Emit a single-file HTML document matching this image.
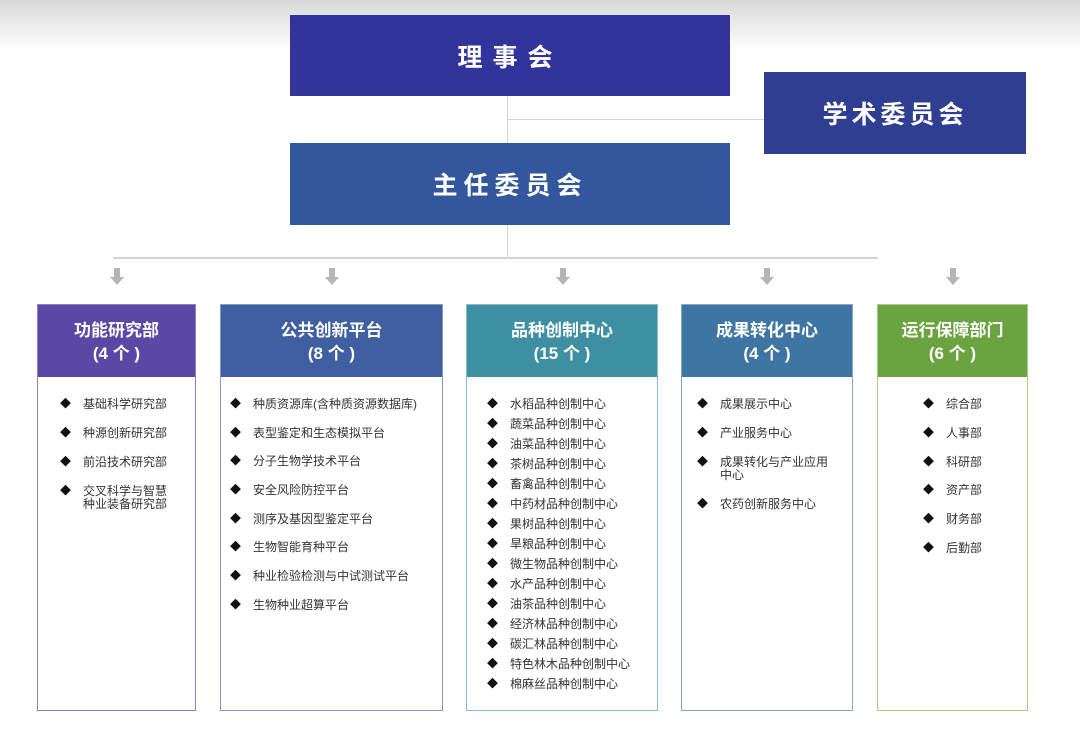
<!DOCTYPE html>
<html><head><meta charset="utf-8"><style>
*{margin:0;padding:0;box-sizing:border-box}
body{width:1080px;height:730px;background:#fff;position:relative;overflow:hidden;font-family:"Liberation Sans","Noto Sans CJK SC",sans-serif}
.fade{position:absolute;left:0;top:0;width:1080px;height:50px;background:linear-gradient(#d8d8d8,#fff)}
.b{position:absolute;color:#fff;font-weight:bold;display:flex;align-items:center;justify-content:center}
.l{position:absolute;background:#d4d4d4}
.col{position:absolute;top:304px;height:407px;border:1.5px solid}
.hd{height:72px;color:#fff;font-weight:bold;font-size:17px;text-align:center;line-height:23px;padding-top:14px}
.it{position:absolute;font-size:12px;color:#333;line-height:13px;white-space:nowrap}
.it:before{content:"◆";position:absolute;left:-23px;top:0;font-size:11px;color:#111}
</style></head><body>
<div class="fade"></div>
<div class="l" style="left:507px;top:96px;width:1px;height:161px"></div>
<div class="l" style="left:507px;top:119px;width:257px;height:1px"></div>
<div class="l" style="left:113px;top:257px;width:765px;height:2px"></div>
<div class="b" style="left:290px;top:15px;width:440px;height:81px;background:#31349a;font-size:25px;letter-spacing:10px">理事会</div>
<div class="b" style="left:764px;top:72px;width:262px;height:82px;background:#2f3e91;font-size:25px;letter-spacing:4px">学术委员会</div>
<div class="b" style="left:290px;top:143px;width:440px;height:82px;background:#33579c;font-size:25px;letter-spacing:6px">主任委员会</div>
<svg width="1080" height="300" style="position:absolute;left:0;top:260px" fill="#b5b5b5">
<g id="a"><rect x="114" y="8" width="6" height="10"/><path d="M110 17h14l-7 8z"/></g>
<use href="#a" x="215"/><use href="#a" x="446"/><use href="#a" x="650"/><use href="#a" x="836"/>
</svg>
<div class="col" style="left:37px;width:159px;border-color:#8c80c4"><div class="hd" style="background:#5a48a4">功能研究部<br>(4 个 )</div></div>
<div class="col" style="left:220px;width:223px;border-color:#8598c4"><div class="hd" style="background:#405fa0">公共创新平台<br>(8 个 )</div></div>
<div class="col" style="left:466px;width:192px;border-color:#86bccb"><div class="hd" style="background:#3f8fa2">品种创制中心<br>(15 个 )</div></div>
<div class="col" style="left:681px;width:172px;border-color:#87a7c6"><div class="hd" style="background:#3f75a3">成果转化中心<br>(4 个 )</div></div>
<div class="col" style="left:877px;width:151px;border-color:#a6cc88"><div class="hd" style="background:#6aa33f">运行保障部门<br>(6 个 )</div></div>

<div class="it" style="left:83px;top:398px">基础科学研究部</div>
<div class="it" style="left:83px;top:427px">种源创新研究部</div>
<div class="it" style="left:83px;top:456px">前沿技术研究部</div>
<div class="it" style="left:83px;top:485px">交叉科学与智慧<br>种业装备研究部</div>

<div class="it" style="left:253px;top:398px">种质资源库(含种质资源数据库)</div>
<div class="it" style="left:253px;top:427px">表型鉴定和生态模拟平台</div>
<div class="it" style="left:253px;top:455px">分子生物学技术平台</div>
<div class="it" style="left:253px;top:484px">安全风险防控平台</div>
<div class="it" style="left:253px;top:513px">测序及基因型鉴定平台</div>
<div class="it" style="left:253px;top:541px">生物智能育种平台</div>
<div class="it" style="left:253px;top:570px">种业检验检测与中试测试平台</div>
<div class="it" style="left:253px;top:599px">生物种业超算平台</div>

<div class="it" style="left:510px;top:398px">水稻品种创制中心</div>
<div class="it" style="left:510px;top:418px">蔬菜品种创制中心</div>
<div class="it" style="left:510px;top:438px">油菜品种创制中心</div>
<div class="it" style="left:510px;top:458px">茶树品种创制中心</div>
<div class="it" style="left:510px;top:478px">畜禽品种创制中心</div>
<div class="it" style="left:510px;top:498px">中药材品种创制中心</div>
<div class="it" style="left:510px;top:518px">果树品种创制中心</div>
<div class="it" style="left:510px;top:538px">旱粮品种创制中心</div>
<div class="it" style="left:510px;top:558px">微生物品种创制中心</div>
<div class="it" style="left:510px;top:578px">水产品种创制中心</div>
<div class="it" style="left:510px;top:598px">油茶品种创制中心</div>
<div class="it" style="left:510px;top:618px">经济林品种创制中心</div>
<div class="it" style="left:510px;top:638px">碳汇林品种创制中心</div>
<div class="it" style="left:510px;top:658px">特色林木品种创制中心</div>
<div class="it" style="left:510px;top:678px">棉麻丝品种创制中心</div>

<div class="it" style="left:720px;top:398px">成果展示中心</div>
<div class="it" style="left:720px;top:427px">产业服务中心</div>
<div class="it" style="left:720px;top:456px">成果转化与产业应用<br>中心</div>
<div class="it" style="left:720px;top:498px">农药创新服务中心</div>

<div class="it" style="left:946px;top:398px">综合部</div>
<div class="it" style="left:946px;top:427px">人事部</div>
<div class="it" style="left:946px;top:456px">科研部</div>
<div class="it" style="left:946px;top:484px">资产部</div>
<div class="it" style="left:946px;top:513px">财务部</div>
<div class="it" style="left:946px;top:542px">后勤部</div>
</body></html>
